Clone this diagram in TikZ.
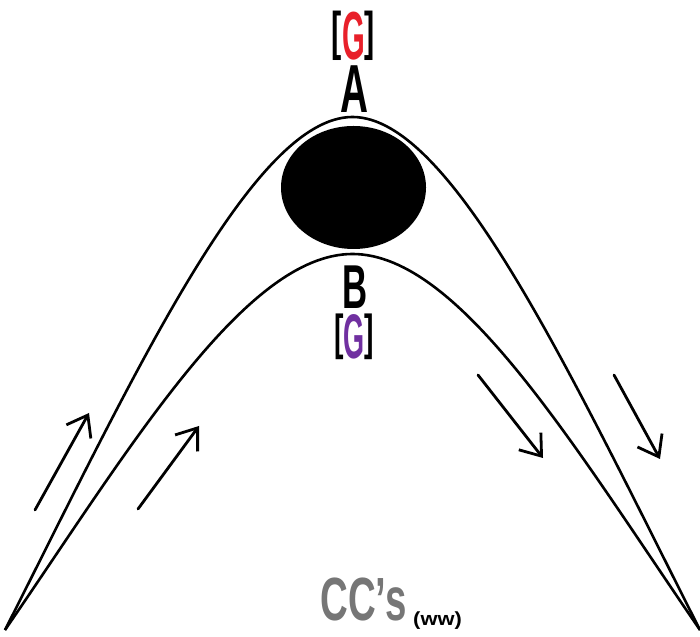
\documentclass[tikz,border=0pt]{standalone}
\usepackage{fontspec}
\setmainfont{Liberation Sans}
\usetikzlibrary{arrows.meta}
\definecolor{gred}{RGB}{232,32,42}
\definecolor{gpurple}{RGB}{112,48,160}
\definecolor{ccgray}{RGB}{118,118,118}
\newcommand{\cond}[2]{\scalebox{#1}[1]{#2}}
\newcommand{\brk}[1]{\raisebox{0.15em}{\scalebox{0.45}[0.78]{#1}}}

\begin{document}
\begin{tikzpicture}[x=1pt,y=1pt,
		curve/.style={line width=2.6pt},
		flow/.style={line width=2.8pt, line cap=round, -{Straight Barb[length=19pt,width=28pt]}},
		lbl/.style={inner sep=0pt, anchor=base, font=\bfseries}]
			\useasboundingbox (0,0) rectangle (700,636);
			% the two arches
			\coordinate (L) at (5,6);
			\coordinate (R) at (700,6);
			\coordinate (Atop) at (352.5,519);
			\coordinate (Btop) at (352.5,382);
			\draw[curve] (L) .. controls (134,261) and (253,519) .. (Atop) .. controls (452,519) and (571,261) .. (R);
			\draw[curve] (L) .. controls (130,188) and (245,382) .. (Btop) .. controls (460,382) and (575,188) .. (R);
			\fill (353.5,448.5) ellipse (72.5 and 61.5);
			
			% labels
			\node[lbl, font=\bfseries\fontsize{68}{68}\selectfont] (gA) at (353.5,576) {\brk{[}\cond{0.43}{\textcolor{gred}{G}}\brk{]}};
			\node[lbl, font=\bfseries\fontsize{68}{68}\selectfont] (A) at (354,523) {\cond{0.57}{A}};
			\node[lbl, font=\bfseries\fontsize{62}{62}\selectfont] (B) at (355.5,327) {\cond{0.56}{B}};
			\node[lbl, font=\bfseries\fontsize{63}{63}\selectfont] (gB) at (354,277) {\brk{[}\cond{0.43}{\textcolor{gpurple}{G}}\brk{]}};
			\node[lbl, font=\bfseries\fontsize{61}{61}\selectfont, text=ccgray] (cc) at (363.5,16) {\cond{0.63}{CC’s}};
			\node[lbl, font=\bfseries\fontsize{19}{19}\selectfont] (ww) at (437.5,11) {\cond{1.15}{(ww)}};
			
			% flow arrows
			\draw[flow] (35,126) -- (89,223);
			\draw[flow] (138,127) -- (199,210);
			\draw[flow] (478,261) -- (543,178);
			\draw[flow] (614,261) -- (660,177);
		\end{tikzpicture}
\end{document}
